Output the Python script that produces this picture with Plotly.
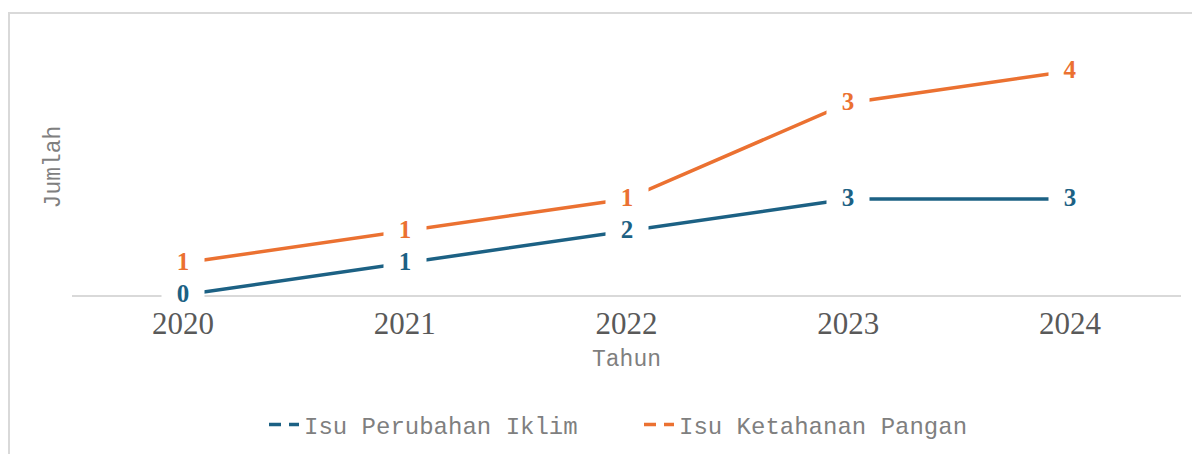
import plotly.graph_objects as go

years = ["2020", "2021", "2022", "2023", "2024"]
iklim = [0, 1, 2, 3, 3]
pangan = [1, 1, 1, 3, 4]
series_names = ["Isu Perubahan Iklim", "Isu Ketahanan Pangan"]

BLUE = "#1C6184"
ORANGE = "#EB7131"
MONO = "Liberation Mono, Courier New, monospace"
SERIF = "Liberation Serif, Times New Roman, serif"

# page has an 8px body margin; figure sized to fit the 1200x454 window
OFF = 8
W, H = 1200 - OFF, 454 - OFF
# plot area in page pixels: x 72..1181, y 39..295
L, T = 72 - OFF, 39 - OFF
R = W - (1181 - OFF)
B = H - (295 - OFF)

fig = go.Figure()

# stacked lines (Excel "stacked line" style)
for name, vals, col in [(series_names[0], iklim, BLUE), (series_names[1], pangan, ORANGE)]:
    fig.add_trace(go.Scatter(
        x=years, y=vals, name=name, mode="lines", stackgroup="one", fill="none",
        line=dict(color=col, width=3.5), showlegend=False,
    ))

# legend entries (dashed)
for name, col in [(series_names[0], BLUE), (series_names[1], ORANGE)]:
    fig.add_trace(go.Scatter(
        x=[None], y=[None], name=name, mode="lines",
        line=dict(color=col, width=3.5, dash="12px,8px"),
    ))

# data labels at stacked positions, showing own values
cum = [0] * len(years)
for vals, col in [(iklim, BLUE), (pangan, ORANGE)]:
    for i, v in enumerate(vals):
        cum[i] += v
        fig.add_annotation(
            x=i, y=cum[i], xref="x", yref="y", text=f"<b>{v}</b>", showarrow=False,
            font=dict(family=SERIF, size=25, color=col),
            bgcolor="white", width=36, borderpad=3, yshift=2,
            xanchor="center", yanchor="middle",
        )

pw = W - L - R
ph = H - T - B
def px2x(px):
    return (px - OFF - L) / pw
def py2y(py):
    return (H - B - (py - OFF)) / ph

# chart border (outer frame)
fig.add_shape(type="rect", xref="paper", yref="paper",
              x0=px2x(9), x1=px2x(1215), y0=py2y(480), y1=py2y(13),
              line=dict(color="#D9D9D9", width=2), fillcolor="rgba(0,0,0,0)", layer="below")

fig.update_layout(
    width=W, height=H,
    margin=dict(l=L, r=R, t=T, b=B, autoexpand=False),
    paper_bgcolor="white", plot_bgcolor="white",
    xaxis=dict(
        type="category", range=[-0.5, 4.5],
        showline=True, linecolor="#D9D9D9", linewidth=2,
        showgrid=False, zeroline=False, ticks="",
        tickfont=dict(family=SERIF, size=31, color="#595959"),
        title=dict(text="Tahun", font=dict(family=MONO, size=23, color="#7F7F7F"), standoff=10),
        automargin=False,
    ),
    yaxis=dict(
        range=[0, 8], showticklabels=False, showgrid=False, zeroline=False, showline=False, ticks="",
        title=dict(text="Jumlah", font=dict(family=MONO, size=23, color="#7F7F7F"), standoff=3),
        automargin=False,
    ),
    legend=dict(
        orientation="h", x=px2x(639), xanchor="center", y=py2y(425), yanchor="middle",
        font=dict(family=MONO, size=24, color="#7F7F7F"),
        itemwidth=30, traceorder="normal", entrywidth=330,
    ),
    showlegend=True,
)

fig.write_html("out.html")
